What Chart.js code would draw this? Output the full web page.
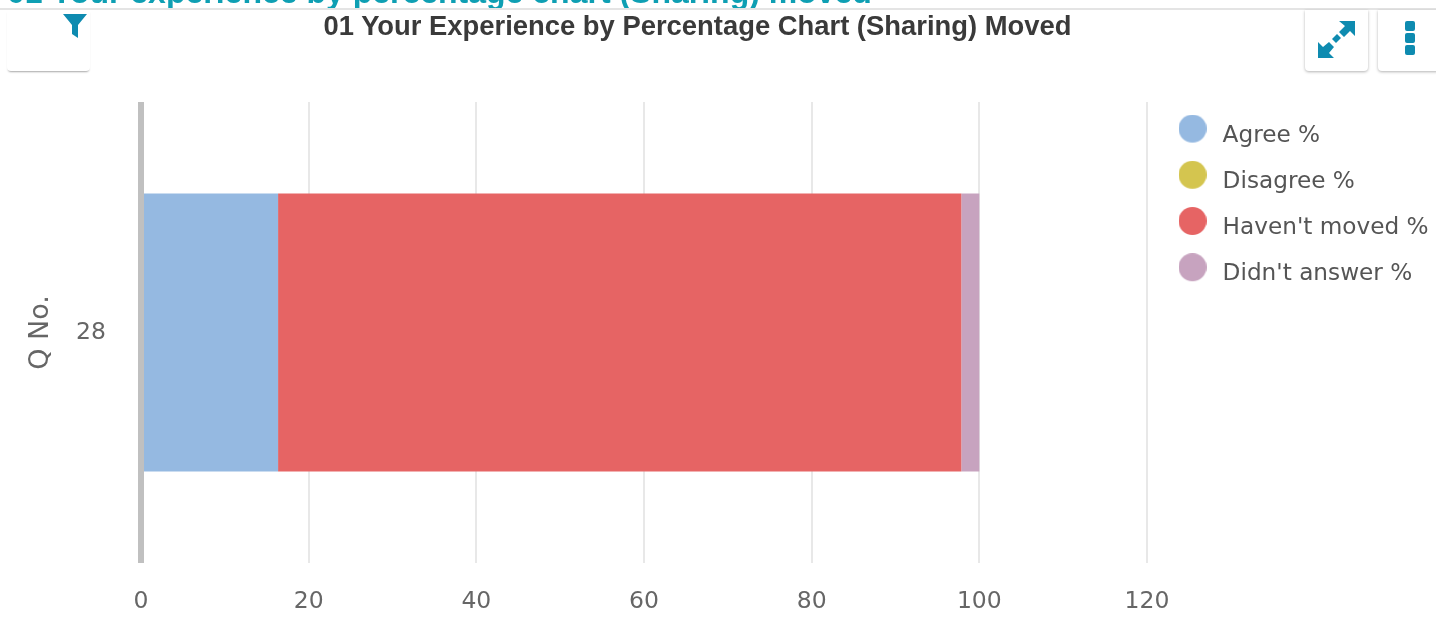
<!DOCTYPE html>
<html>
<head>
<meta charset="utf-8">
<title>01 Your Experience by Percentage Chart (Sharing) Moved</title>
<script src="https://cdn.jsdelivr.net/npm/chart.js@4/dist/chart.umd.min.js"></script>
<style>
    html, body { margin: 0; padding: 0; background: #fff; overflow: hidden; }
    #page { position: relative; width: 1436px; height: 641px; overflow: hidden; }
    #chart-wrap { position: absolute; left: 0; top: 0; width: 1436px; height: 641px; }
    #header-clip { position: absolute; left: 0; top: 0; width: 1436px; height: 8px; overflow: hidden; }
    #header { position: absolute; left: 7px; top: -24px; margin: 0; font: bold 32px/32px "Liberation Sans", Arial, sans-serif; color: #0e9fb3; white-space: nowrap; }
    #rule { position: absolute; left: 0; top: 8px; width: 1436px; height: 2px; background: #e4e4e4; }
    #title { position: absolute; left: 0; top: 10px; width: 1395px; margin: 0; text-align: center; font: bold 27.4px/32px "Liberation Sans", Arial, sans-serif; color: #3a3a3a; white-space: nowrap; }
    .tool { position: absolute; top: 10px; height: 61px; background: #fff; border-radius: 0 0 4px 4px; box-shadow: 0 1px 3px rgba(0,0,0,.3); }
    .tool svg { position: absolute; display: block; }
    #btn-filter { left: 7px; width: 83px; box-shadow: 0 2px 2px -1px rgba(0,0,0,.35); }
    #btn-expand { left: 1305px; width: 63px; }
    #btn-menu { left: 1378px; width: 62px; }
</style>
</head>
<body>
<div id="page">
    <div id="chart-wrap"><canvas id="chart-moved"></canvas></div>
    <div id="header-clip"><h1 id="header">01 Your experience by percentage chart (Sharing) moved</h1></div>
    <div id="rule"></div>
    <h2 id="title">01 Your Experience by Percentage Chart (Sharing) Moved</h2>
    <div class="tool" id="btn-filter">
        <svg style="left:55px;top:4px" width="26" height="24" viewBox="0 0 26 24"><path d="M1 0H25L16 11V24L10 20V11Z" fill="#0e8bb0"/></svg>
    </div>
    <div class="tool" id="btn-expand">
        <svg style="left:13px;top:11px" width="38" height="37" viewBox="0 0 38 37"><g fill="#0e8bb0"><path d="M21 0H37V15L32 10L26 16L21 11L27 5Z"/><path d="M0 37V21L5 26L11 21L16 26L11 32L16 37Z"/><path d="M14 18L19 13L23 17L18 22Z"/></g></svg>
    </div>
    <div class="tool" id="btn-menu">
        <svg style="left:26px;top:11px" width="12" height="34" viewBox="0 0 12 34"><g fill="#0e8bb0"><rect x="1" y="0" width="10" height="10" rx="2"/><rect x="1" y="12" width="10" height="10" rx="2"/><rect x="1" y="24" width="10" height="10" rx="2"/></g></svg>
    </div>
</div>
<script>
// Datos
const categories = ['28'];
const agreeValues = [16.35];
const disagreeValues = [0];
const notMovedValues = [81.5];
const noAnswerValues = [2.15];
const seriesLabels = ['Agree %', 'Disagree %', "Haven't moved %", "Didn't answer %"];
const seriesColors = ['#95b9e1', '#d4c54f', '#e66464', '#c7a3bf'];
const xTicks = [0, 20, 40, 60, 80, 100, 120];

const FONT = '"DejaVu Sans", Verdana, sans-serif';

// Marcador de la leyenda: circulo algo mas alto que el texto
function legendMarker(color) {
    const marker = document.createElement('canvas');
    marker.width = 28;
    marker.height = 42;
    const m = marker.getContext('2d');
    m.fillStyle = color;
    m.beginPath();
    m.arc(14, 14, 14, 0, Math.PI * 2);
    m.fill();
    return marker;
}

// Ajuste fino de la posicion de la leyenda
const legendNudge = {
    id: 'legendNudge',
    afterLayout(chart) {
        chart.legend.left += 4;
        chart.legend.top -= 1;
    }
};

const ctx = document.getElementById('chart-moved').getContext('2d');
new Chart(ctx, {
    type: 'bar',
    data: {
        labels: categories,
        datasets: [agreeValues, disagreeValues, notMovedValues, noAnswerValues].map((values, i) => ({
            label: seriesLabels[i],
            data: values,
            backgroundColor: seriesColors[i],
            borderWidth: 0,
            categoryPercentage: 0.603,
            barPercentage: 1
        }))
    },
    plugins: [legendNudge],
    options: {
        indexAxis: 'y',
        responsive: true,
        maintainAspectRatio: false,
        animation: false,
        layout: { padding: { top: 102, right: 0, left: 25, bottom: 0 } },
        plugins: {
            tooltip: { enabled: false },
            legend: {
                position: 'right',
                align: 'start',
                labels: {
                    usePointStyle: true,
                    pointStyleWidth: 37,
                    padding: 23,
                    color: '#555',
                    font: { family: FONT, size: 23.2 },
                    generateLabels: chart => Chart.defaults.plugins.legend.labels.generateLabels(chart)
                        .map((item, i) => ({ ...item, pointStyle: legendMarker(seriesColors[i]) }))
                }
            }
        },
        scales: {
            x: {
                stacked: true,
                min: 0,
                max: 120,
                afterBuildTicks: axis => { axis.ticks = xTicks.map(value => ({ value })); },
                afterFit: axis => { axis.height = 78; axis.paddingRight = 289; },
                grid: {
                    color: c => (c.tick && c.tick.value === 0 ? '#c0c0c0' : '#e8e8e8'),
                    lineWidth: c => (c.tick && c.tick.value === 0 ? 6 : 2),
                    drawTicks: false
                },
                border: { display: false },
                ticks: { color: '#666', padding: 25, maxRotation: 0, font: { family: FONT, size: 23.5 } }
            },
            y: {
                stacked: true,
                afterFit: axis => { axis.width = 116; },
                grid: { display: false },
                border: { display: false },
                title: { display: true, text: 'Q No.', color: '#666', padding: 0, font: { family: FONT, size: 27 } },
                ticks: { color: '#666', padding: 27, font: { family: FONT, size: 23.5 } }
            }
        }
    }
});
</script>
</body>
</html>
